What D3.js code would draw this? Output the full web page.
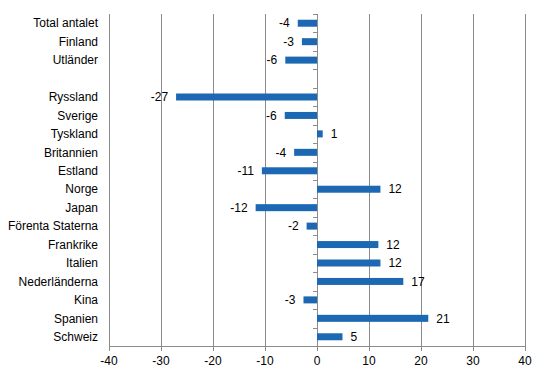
<!DOCTYPE html>
<html>
<head>
<meta charset="utf-8">
<script src="https://cdn.jsdelivr.net/npm/d3@7"></script>
<style>
    body { margin: 0; background: #fff; }
    text { font-family: "Liberation Sans", Arial, sans-serif; font-size: 12px; fill: #000; }
</style>
</head>
<body>
<div id="chart"></div>
<script>
// categories top to bottom ("" is the empty spacer row)
const categories = ["Total antalet", "Finland", "Utländer", "", "Ryssland", "Sverige", "Tyskland",
    "Britannien", "Estland", "Norge", "Japan", "Förenta Staterna", "Frankrike", "Italien",
    "Nederländerna", "Kina", "Spanien", "Schweiz"];
const values = [-3.7, -2.9, -6.1, null, -27.1, -6.2, 1.1, -4.4, -10.6, 12.2, -11.8, -2.0,
    11.8, 12.2, 16.6, -2.6, 21.4, 4.9];
const xTicks = [-40, -30, -20, -10, 0, 10, 20, 30, 40];

const margin = {top: 14, right: 21, bottom: 30, left: 109};
const width = 546 - margin.left - margin.right;
const height = 376 - margin.top - margin.bottom;
const grey = "#8c8c8c";

const svg = d3.select("#chart").append("svg")
    .attr("width", 546)
    .attr("height", 376)
    .append("g")
    .attr("transform", `translate(${margin.left},${margin.top})`);

const x = d3.scaleLinear().domain([-40, 40]).range([0, width]);
const y = d3.scaleBand().domain(categories).range([0, height]).padding(0);
const barH = 7;

// vertical gridlines
svg.selectAll(".grid").data(xTicks).enter()
    .append("line")
    .attr("x1", d => Math.round(x(d)) + 0.5)
    .attr("x2", d => Math.round(x(d)) + 0.5)
    .attr("y1", 0)
    .attr("y2", height)
    .style("stroke", grey);

// bottom axis
svg.append("line")
    .attr("x1", 0).attr("x2", width)
    .attr("y1", Math.round(height) + 0.5).attr("y2", Math.round(height) + 0.5)
    .style("stroke", grey);
svg.selectAll(".xtick").data(xTicks).enter()
    .append("line")
    .attr("x1", d => Math.round(x(d)) + 0.5)
    .attr("x2", d => Math.round(x(d)) + 0.5)
    .attr("y1", height).attr("y2", height + 5)
    .style("stroke", grey);
svg.selectAll(".xlabel").data(xTicks).enter()
    .append("text")
    .attr("x", d => x(d))
    .attr("y", height + 19)
    .attr("text-anchor", "middle")
    .text(d => String(d));

// category boundary ticks on the zero axis
const bounds = categories.map(c => y(c));
svg.selectAll(".ytick").data(bounds).enter()
    .append("line")
    .attr("x1", x(0) - 4).attr("x2", x(0))
    .attr("y1", d => Math.round(d) + 0.5).attr("y2", d => Math.round(d) + 0.5)
    .style("stroke", grey);

// category labels
svg.selectAll(".cat").data(categories).enter()
    .append("text")
    .attr("x", -11)
    .attr("y", d => y(d) + y.bandwidth() / 2)
    .attr("dy", "0.35em")
    .attr("text-anchor", "end")
    .text(d => d);

const rows = categories.map((c, i) => ({name: c, value: values[i]})).filter(d => d.value !== null);

// bars
svg.selectAll(".bar").data(rows).enter()
    .append("rect")
    .attr("x", d => x(Math.min(0, d.value)))
    .attr("y", d => y(d.name) + (y.bandwidth() - barH) / 2)
    .attr("width", d => Math.abs(x(d.value) - x(0)))
    .attr("height", barH)
    .style("fill", "#1c68b3");

// value labels
svg.selectAll(".val").data(rows).enter()
    .append("text")
    .attr("x", d => d.value < 0 ? x(d.value) - 8 : x(d.value) + 8)
    .attr("y", d => y(d.name) + y.bandwidth() / 2)
    .attr("dy", "0.35em")
    .attr("text-anchor", d => d.value < 0 ? "end" : "start")
    .text(d => String(Math.round(d.value)));
</script>
</body>
</html>
